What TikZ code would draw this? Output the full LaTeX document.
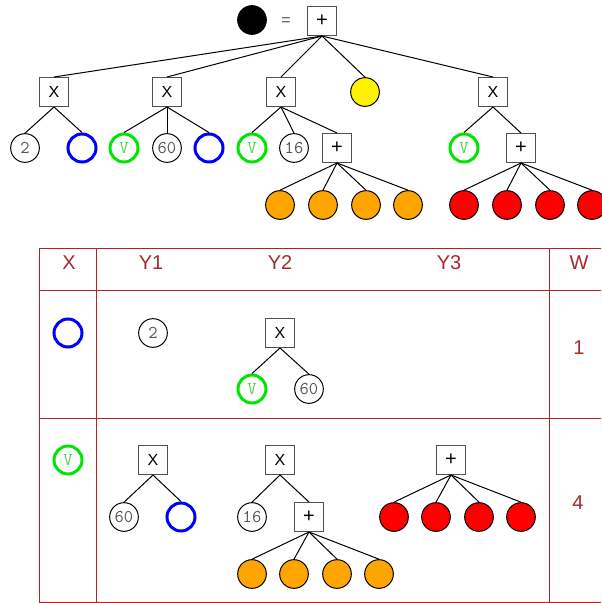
\documentclass[tikz,border=0pt]{standalone}
\usepackage{fontspec}
\setmainfont{Liberation Sans}
\setsansfont{Liberation Sans}

\definecolor{tabred}{RGB}{178,34,34}
\definecolor{headred}{RGB}{165,42,42}
\definecolor{vgreen}{RGB}{0,230,0}
\definecolor{vtext}{RGB}{80,215,80}
\definecolor{leafblue}{RGB}{0,0,255}
\definecolor{numgray}{RGB}{85,85,85}
\definecolor{boxgray}{RGB}{80,80,80}
\definecolor{orangefill}{RGB}{255,165,0}

\tikzset{every picture/.style={line width=0.75pt}}
\tikzset{
  opbox/.style={draw=boxgray, fill=white, minimum size=21.75pt, inner sep=0pt, font=\sffamily\fontsize{12}{14}\selectfont},
  plusbox/.style={opbox, font=\sffamily\fontsize{15}{17}\selectfont},
  numleaf/.style={circle, draw, fill=white, minimum size=21.5pt, inner sep=0pt, text=numgray, font=\ttfamily\fontsize{13.5}{15}\selectfont},
  vleaf/.style={circle, draw=vgreen, line width=2.25pt, minimum size=21pt, inner sep=0pt, text=vtext, font=\ttfamily\fontsize{13.5}{15}\selectfont},
  bleaf/.style={circle, draw=leafblue, line width=2.25pt, minimum size=21pt, inner sep=0pt},
  fleaf/.style={circle, draw, minimum size=21.5pt, inner sep=0pt, fill=#1},
  tabline/.style={draw=tabred, line width=0.75pt},
  tabtext/.style={text=headred, font=\sffamily\fontsize{15}{17}\selectfont, inner sep=0pt},
}

\begin{document}
\begin{tikzpicture}[x=0.75pt,y=0.75pt,yscale=-1,xscale=1]
\useasboundingbox (0,0) rectangle (601,603);

%Tree: whole expression
\node [fleaf=black] (blk) at (252,20) {};
\node [text=numgray, font=\fontsize{12}{14}\selectfont] (eq) at (286,22) {=};
\node [plusbox] (root) at (322,21) {+};

\node [opbox] (xa) at (54,92) {X};
\node [opbox] (xb) at (167,92) {X};
\node [opbox] (xc) at (281,92) {X};
\node [fleaf=yellow] (ylw) at (365,92) {};
\node [opbox] (xd) at (493,92) {X};

\node [numleaf] (n2) at (25,148) {2};
\node [bleaf] (bla) at (82,148) {};
\node [vleaf] (va) at (124,148) {V};
\node [numleaf] (n60) at (167,148) {60};
\node [bleaf] (blb) at (209,148) {};
\node [vleaf] (vb) at (252,148) {V};
\node [numleaf] (n16) at (294,148) {16};
\node [plusbox] (pa) at (337,148) {+};
\node [vleaf] (vc) at (464,148) {V};
\node [plusbox] (pb) at (521,148) {+};

\node [fleaf=orangefill] (oa) at (280,205) {};
\node [fleaf=orangefill] (ob) at (323,205) {};
\node [fleaf=orangefill] (oc) at (366,205) {};
\node [fleaf=orangefill] (od) at (408,205) {};
\node [fleaf=red] (ra) at (464,205) {};
\node [fleaf=red] (rb) at (507,205) {};
\node [fleaf=red] (rc) at (550,205) {};
\node [fleaf=red] (rd) at (592,205) {};

%Straight Lines
\draw (root.south) -- (xa.north);
\draw (root.south) -- (xb.north);
\draw (root.south) -- (xc.north);
\draw (root.south) -- (ylw.north);
\draw (root.south) -- (xd.north);
\draw (xa.south) -- (n2.north);
\draw (xa.south) -- (bla.north);
\draw (xb.south) -- (va.north);
\draw (xb.south) -- (n60.north);
\draw (xb.south) -- (blb.north);
\draw (xc.south) -- (vb.north);
\draw (xc.south) -- (n16.north);
\draw (xc.south) -- (pa.north);
\draw (xd.south) -- (vc.north);
\draw (xd.south) -- (pb.north);
\draw (pa.south) -- (oa.north);
\draw (pa.south) -- (ob.north);
\draw (pa.south) -- (oc.north);
\draw (pa.south) -- (od.north);
\draw (pb.south) -- (ra.north);
\draw (pb.south) -- (rb.north);
\draw (pb.south) -- (rc.north);
\draw (pb.south) -- (rd.north);

%Table: grid lines
\draw [tabline] (39.3,248.3) -- (601,248.3);
\draw [tabline] (39.3,290.7) -- (601,290.7);
\draw [tabline] (39.3,418.3) -- (601,418.3);
\draw [tabline] (39.3,602) -- (601,602);
\draw [tabline] (39.3,248.3) -- (39.3,602);
\draw [tabline] (96.3,248.3) -- (96.3,602);
\draw [tabline] (549.7,248.3) -- (549.7,602);

% Text Node
\node [tabtext] (hx) at (69,263) {X};
\node [tabtext] (hya) at (151,263) {Y1};
\node [tabtext] (hyb) at (280,263) {Y2};
\node [tabtext] (hyc) at (449,263) {Y3};
\node [tabtext] (hw) at (579,263) {W};

%Row 1
\node [bleaf] (rabl) at (68,333) {};
\node [numleaf] (ran2) at (153,333) {2};
\node [opbox] (rax) at (280,333) {X};
\node [vleaf] (rav) at (252,389) {V};
\node [numleaf] (ran60) at (309,389) {60};
\node [tabtext] (raw) at (579,348) {1};

\draw (rax.south) -- (rav.north);
\draw (rax.south) -- (ran60.north);

%Row 2
\node [vleaf] (rbv) at (68,460) {V};
\node [opbox] (rbxa) at (153,460) {X};
\node [numleaf] (rbn60) at (124,517) {60};
\node [bleaf] (rbbl) at (181,517) {};
\node [opbox] (rbxb) at (280,460) {X};
\node [numleaf] (rbn16) at (252,517) {16};
\node [plusbox] (rbp) at (309,517) {+};
\node [fleaf=orangefill] (rboa) at (252,574) {};
\node [fleaf=orangefill] (rbob) at (294,574) {};
\node [fleaf=orangefill] (rboc) at (337,574) {};
\node [fleaf=orangefill] (rbod) at (379,574) {};
\node [plusbox] (rbq) at (451,460) {+};
\node [fleaf=red] (rbra) at (394,517) {};
\node [fleaf=red] (rbrb) at (436,517) {};
\node [fleaf=red] (rbrc) at (479,517) {};
\node [fleaf=red] (rbrd) at (521,517) {};
\node [tabtext] (rbw) at (578,503) {4};

\draw (rbxa.south) -- (rbn60.north);
\draw (rbxa.south) -- (rbbl.north);
\draw (rbxb.south) -- (rbn16.north);
\draw (rbxb.south) -- (rbp.north);
\draw (rbp.south) -- (rboa.north);
\draw (rbp.south) -- (rbob.north);
\draw (rbp.south) -- (rboc.north);
\draw (rbp.south) -- (rbod.north);
\draw (rbq.south) -- (rbra.north);
\draw (rbq.south) -- (rbrb.north);
\draw (rbq.south) -- (rbrc.north);
\draw (rbq.south) -- (rbrd.north);

\end{tikzpicture}
\end{document}
